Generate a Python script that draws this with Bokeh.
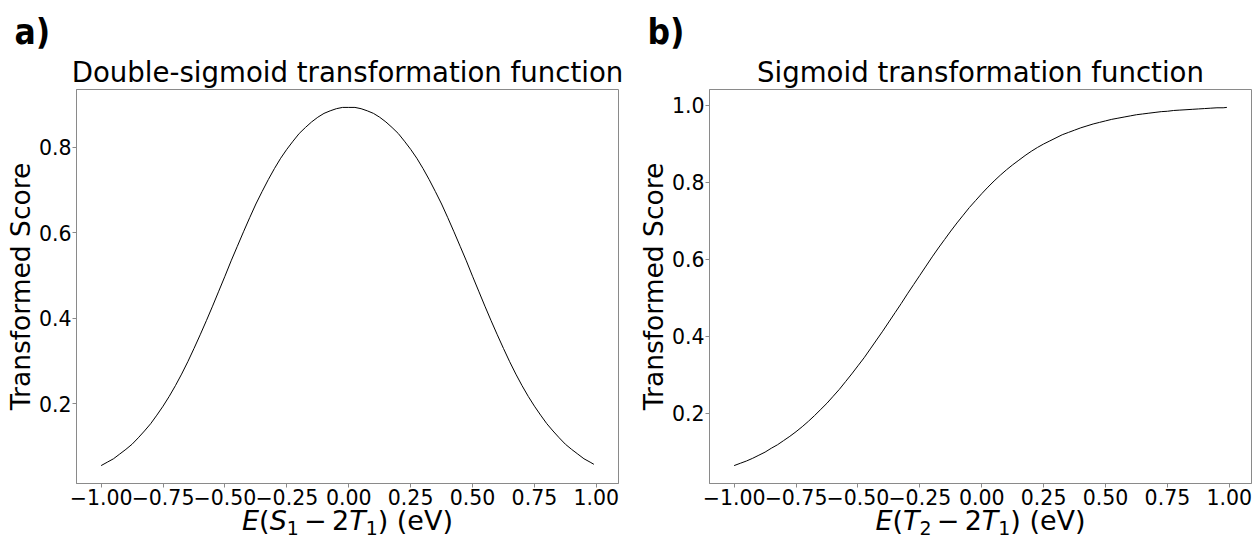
from bokeh.plotting import figure
from bokeh.layouts import row, column
from bokeh.models import Range1d, Label, FixedTicker
from bokeh.embed import file_html
from bokeh.resources import INLINE

# ---------------- data ----------------
x_grid = [-1.000, -0.975, -0.950, -0.925, -0.900, -0.875, -0.850, -0.825, -0.800, -0.775,
          -0.750, -0.725, -0.700, -0.675, -0.650, -0.625, -0.600, -0.575, -0.550, -0.525,
          -0.500, -0.475, -0.450, -0.425, -0.400, -0.375, -0.350, -0.325, -0.300, -0.275,
          -0.250, -0.225, -0.200, -0.175, -0.150, -0.125, -0.100, -0.075, -0.050, -0.025,
          0.000, 0.025, 0.050, 0.075, 0.100, 0.125, 0.150, 0.175, 0.200, 0.225,
          0.250, 0.275, 0.300, 0.325, 0.350, 0.375, 0.400, 0.425, 0.450, 0.475,
          0.500, 0.525, 0.550, 0.575, 0.600, 0.625, 0.650, 0.675, 0.700, 0.725,
          0.750, 0.775, 0.800, 0.825, 0.850, 0.875, 0.900, 0.925, 0.950, 0.975, 0.990]

# a) double-sigmoid transformed score
y_double = [0.055, 0.063, 0.071, 0.082, 0.093, 0.105, 0.120, 0.136, 0.153, 0.173,
            0.194, 0.217, 0.242, 0.269, 0.298, 0.329, 0.361, 0.394, 0.428, 0.463,
            0.498, 0.534, 0.568, 0.602, 0.635, 0.667, 0.696, 0.724, 0.750, 0.774,
            0.795, 0.814, 0.832, 0.846, 0.859, 0.870, 0.879, 0.885, 0.890, 0.893,
            0.893, 0.893, 0.890, 0.885, 0.879, 0.870, 0.859, 0.846, 0.832, 0.814,
            0.795, 0.774, 0.750, 0.724, 0.696, 0.667, 0.635, 0.602, 0.568, 0.534,
            0.498, 0.463, 0.428, 0.394, 0.361, 0.329, 0.298, 0.269, 0.242, 0.217,
            0.194, 0.173, 0.153, 0.136, 0.120, 0.105, 0.093, 0.082, 0.071, 0.063, 0.058]

# b) sigmoid transformed score
y_sigmoid = [0.064, 0.070, 0.076, 0.083, 0.091, 0.099, 0.109, 0.118, 0.129, 0.140,
             0.152, 0.165, 0.179, 0.194, 0.210, 0.226, 0.244, 0.262, 0.282, 0.302,
             0.323, 0.344, 0.367, 0.390, 0.413, 0.437, 0.461, 0.485, 0.510, 0.534,
             0.558, 0.582, 0.606, 0.629, 0.651, 0.673, 0.694, 0.714, 0.734, 0.752,
             0.770, 0.787, 0.803, 0.818, 0.832, 0.845, 0.857, 0.869, 0.880, 0.890,
             0.899, 0.907, 0.915, 0.923, 0.929, 0.935, 0.941, 0.946, 0.951, 0.955,
             0.959, 0.963, 0.966, 0.969, 0.972, 0.975, 0.977, 0.979, 0.981, 0.983,
             0.984, 0.986, 0.987, 0.988, 0.989, 0.990, 0.991, 0.992, 0.993, 0.993, 0.994]

x_ticks = [-1.0, -0.75, -0.5, -0.25, 0.0, 0.25, 0.5, 0.75, 1.0]
x_tick_labels = ["\u22121.00", "\u22120.75", "\u22120.50", "\u22120.25", "0.00",
                 "0.25", "0.50", "0.75", "1.00"]
y_ticks_a = [0.2, 0.4, 0.6, 0.8]
y_tick_labels_a = ["0.2", "0.4", "0.6", "0.8"]
y_ticks_b = [0.2, 0.4, 0.6, 0.8, 1.0]
y_tick_labels_b = ["0.2", "0.4", "0.6", "0.8", "1.0"]

titles = ["Double-sigmoid transformation function", "Sigmoid transformation function"]
panel_tags = ["a)", "b)"]
y_label = "Transformed Score"
# x label pieces: (text, font style, is_subscript)
x_label_a = [("E", "italic", False), ("(", "normal", False), ("S", "italic", False),
             ("1", "normal", True), ("\u2212", "normal", False), ("2", "normal", False),
             ("T", "italic", False), ("1", "normal", True), (") (eV)", "normal", False)]
x_label_b = [("E", "italic", False), ("(", "normal", False), ("T", "italic", False),
             ("2", "normal", True), ("\u2212", "normal", False), ("2", "normal", False),
             ("T", "italic", False), ("1", "normal", True), (") (eV)", "normal", False)]

# ---------------- layout constants ----------------
W = 629
HEAD_H, MAIN_H, FOOT_H, FOOT_OVERLAP = 88, 424, 36, 9
FW = 542
FONT = "DejaVu Sans"
GRAY = "#8a8a8a"
XL_SIZE = 27.0
TICK_SIZE = "20.5px"
BASE_SHIFT = 0.36   # compensation (in em) for where the label baseline lands

# DejaVu Sans advance widths (units per em = 2048)
ADV = {"E": 1294, "(": 799, ")": 799, "S": 1300, "T": 1251, "1": 1303, "2": 1303,
       "\u2212": 1716, " ": 651, "e": 1260, "V": 1401}


def text_width(s, size):
    return sum(ADV.get(c, 1200) for c in s) * size / 2048.0


def tick_map(ticks, labels):
    out = {}
    for t, l in zip(ticks, labels):
        k = int(t) if float(t).is_integer() else t
        out[k] = l
    return out


def blank_canvas(height, transparent=False):
    f = figure(width=W, height=height, output_backend="svg", toolbar_location=None,
               x_range=Range1d(0, W), y_range=Range1d(0, height),
               x_axis_location=None, y_axis_location=None, min_border=0)
    f.grid.visible = False
    f.outline_line_color = None
    if transparent:
        f.background_fill_alpha = 0
        f.border_fill_alpha = 0
    else:
        f.background_fill_color = "white"
        f.border_fill_color = "white"
    return f


def make_header(title, tag, frame_left):
    h = blank_canvas(HEAD_H)
    tsize = 27.6
    h.add_layout(Label(x=frame_left + FW / 2, y=HEAD_H - 81.5 + BASE_SHIFT * tsize,
                       text=title, text_align="center",
                       text_baseline="alphabetic", text_font=FONT,
                       text_font_size="%.1fpx" % tsize, text_color="black"))
    gsize = 35.0
    h.add_layout(Label(x=frame_left - 62, y=HEAD_H - 44 + BASE_SHIFT * gsize, text=tag,
                       text_align="left", text_baseline="alphabetic",
                       text_font="DejaVu Sans Condensed", text_font_style="bold",
                       text_font_size="%.0fpx" % gsize, text_color="black"))
    return h


def make_footer(parts, frame_left):
    f = blank_canvas(FOOT_H, transparent=True)
    sub_size = XL_SIZE * 0.7
    gap = 0.195 * XL_SIZE
    widths = []
    for t, st, sub in parts:
        w = text_width(t, sub_size if sub else XL_SIZE)
        if t == "\u2212":
            w += 2 * gap
        widths.append(w)
    total = sum(widths)
    cur = frame_left + FW / 2 - total / 2
    base = 9.5   # baseline, px above the bottom of the page
    for (t, st, sub), w in zip(parts, widths):
        xx = cur + (gap if t == "\u2212" else 0)
        size = sub_size if sub else XL_SIZE
        yy = base - (5 if sub else 0) + BASE_SHIFT * size
        f.add_layout(Label(x=xx, y=yy, text=t,
                           text_align="left", text_baseline="alphabetic",
                           text_font=FONT, text_font_style=st,
                           text_font_size="%.1fpx" % size, text_color="black"))
        cur += w
    return f


def make_panel(xs, ys, yticks, yticklabels, left, right):
    xmin, xmax = min(xs), max(xs)
    ymin, ymax = min(ys), max(ys)
    px = 0.05 * (xmax - xmin)
    py = 0.05 * (ymax - ymin)

    p = figure(width=W, height=MAIN_H, output_backend="svg", toolbar_location=None,
               x_range=Range1d(xmin - px, xmax + px), y_range=Range1d(ymin - py, ymax + py),
               min_border_left=left, min_border_right=right,
               min_border_top=1, min_border_bottom=29)
    p.background_fill_color = "white"
    p.border_fill_alpha = 0
    p.outline_line_color = GRAY
    p.outline_line_width = 1
    p.grid.visible = False

    p.line(xs, ys, line_color="black", line_width=1.0)

    for ax in (p.xaxis[0], p.yaxis[0]):
        ax.axis_line_color = GRAY
        ax.major_tick_line_color = GRAY
        ax.major_tick_in = 0
        ax.major_tick_out = 4
        ax.minor_tick_line_color = None
        ax.major_label_text_font = FONT
        ax.major_label_text_font_size = TICK_SIZE
        ax.major_label_text_color = "black"
    p.yaxis.major_label_standoff = 1
    p.xaxis.major_label_standoff = 1

    p.xaxis.ticker = FixedTicker(ticks=x_ticks)
    p.xaxis.major_label_overrides = tick_map(x_ticks, x_tick_labels)
    p.yaxis.ticker = FixedTicker(ticks=yticks)
    p.yaxis.major_label_overrides = tick_map(yticks, yticklabels)

    p.yaxis.axis_label = y_label
    p.yaxis.axis_label_text_font = FONT
    p.yaxis.axis_label_text_font_size = "26.5px"
    p.yaxis.axis_label_text_font_style = "normal"
    p.yaxis.axis_label_text_color = "black"
    p.yaxis.axis_label_standoff = 0
    return p


ha = make_header(titles[0], panel_tags[0], 76)
hb = make_header(titles[1], panel_tags[1], 80)
pa = make_panel(x_grid, y_double, y_ticks_a, y_tick_labels_a, 76, 11)
pb = make_panel(x_grid, y_sigmoid, y_ticks_b, y_tick_labels_b, 80, 7)
fa = make_footer(x_label_a, 76)
fb = make_footer(x_label_b, 80)

layout = column(row(ha, hb), row(pa, pb), row(fa, fb, margin=(-FOOT_OVERLAP, 0, 0, 0)))
open("out.html", "w").write(file_html(layout, INLINE))
